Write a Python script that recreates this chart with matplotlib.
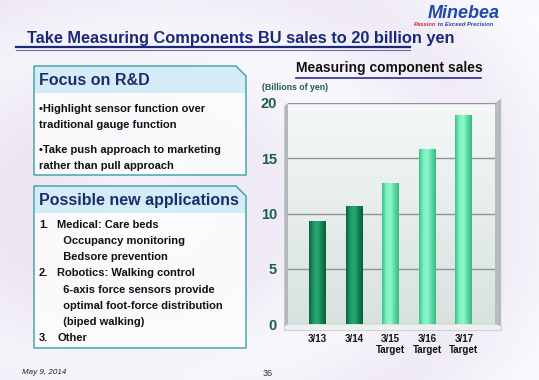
import matplotlib
matplotlib.use("Agg")
import matplotlib.pyplot as plt
import numpy as np
from matplotlib.patches import Polygon
from matplotlib.colors import LinearSegmentedColormap

plt.rcParams['font.family'] = ['Liberation Sans', 'DejaVu Sans']

# ---- data ----
categories = ["3/13", "3/14", "3/15\nTarget", "3/16\nTarget", "3/17\nTarget"]
sales = [9.3, 10.7, 12.8, 15.8, 18.9]
is_target = [False, False, True, True, True]
y_ticks = [0, 5, 10, 15, 20]

title = "Take Measuring Components BU sales to 20 billion yen"
chart_title = "Measuring component sales"
unit_label = "(Billions of yen)"
box1_head = "Focus on R&D"
box1_lines = ["•Highlight sensor function over", "traditional gauge function", "",
              "•Take push approach to marketing", "rather than pull approach"]
box2_head = "Possible new applications"
box2_lines = [("1.", "Medical: Care beds"), ("", "  Occupancy monitoring"), ("", "  Bedsore prevention"),
              ("2.", "Robotics: Walking control"), ("", "  6-axis force sensors provide"),
              ("", "  optimal foot-force distribution"), ("", "  (biped walking)"), ("3.", "Other")]

W, H = 539, 380
fig = plt.figure(figsize=(W / 100, H / 100), dpi=100)

def fx(px):
    return px / W

def fy(py):
    return 1 - py / H

# ---- slide background ----
bg = fig.add_axes([0, 0, 1, 1], zorder=-10)
bg.set_axis_off()
yy, xx = np.mgrid[0:1:200j, 0:1:200j]
r = np.sqrt((xx - 0.25) ** 2 + (yy - 0.45) ** 2)
val = 0.5 + 0.5 * np.cos(r * 14)
bg_cmap = LinearSegmentedColormap.from_list("bgc", ["#ece6f3", "#fbfaff"])
bg.imshow(val * 0.6 + 0.4 * xx, cmap=bg_cmap, extent=[0, 1, 0, 1], aspect="auto", origin="lower")
bg.set_xlim(0, 1)
bg.set_ylim(0, 1)

# ---- title ----
fig.text(fx(27), fy(38), title, fontsize=11.8, fontweight="bold", color="#1a2a7a",
         va="center", ha="left")
fig.add_artist(plt.Line2D([fx(16), fx(410)], [fy(47), fy(47)], color="#1a2a7a", lw=1.6))
fig.add_artist(plt.Line2D([fx(16), fx(410)], [fy(49.5), fy(49.5)], color="#6a6fb0", lw=0.8))

# ---- logo ----
fig.text(fx(500), fy(13), "Minebea", fontsize=13, fontweight="bold", style="italic",
         color="#1f4aa8", ha="right", va="center")
fig.text(fx(436), fy(24.5), "Passion", fontsize=4.2, fontweight="bold", style="italic",
         color="#c8282c", ha="right", va="center")
fig.text(fx(436), fy(24.5), " to Exceed Precision", fontsize=4.2, fontweight="bold", style="italic",
         color="#1f4aa8", ha="left", va="center")

# ---- left boxes ----
def draw_box(x0, y0, x1, y1, yh, head, headsize):
    cut = 10
    outline = [(fx(x0), fy(y0)), (fx(x1 - cut), fy(y0)), (fx(x1), fy(y0 + cut)),
               (fx(x1), fy(y1)), (fx(x0), fy(y1))]
    fig.add_artist(Polygon(outline, closed=True, facecolor="#ffffff", alpha=0.75,
                           edgecolor="none"))
    head_poly = [(fx(x0), fy(y0)), (fx(x1 - cut), fy(y0)), (fx(x1), fy(y0 + cut)),
                 (fx(x1), fy(yh)), (fx(x0), fy(yh))]
    fig.add_artist(Polygon(head_poly, closed=True, facecolor="#d4ecf8", edgecolor="none"))
    fig.add_artist(Polygon(outline, closed=True, facecolor="none", edgecolor="#3a9ea0", lw=1.0))
    fig.text(fx(x0 + 5), fy((y0 + yh) / 2 + 1), head, fontsize=headsize, fontweight="bold",
             color="#1a2f6e", va="center", ha="left")

draw_box(34, 66, 246, 175, 93, box1_head, 11.5)
ys1 = [109, 125, 137, 150, 166]
for t, yv in zip(box1_lines, ys1):
    if t:
        fig.text(fx(39), fy(yv), t, fontsize=8.0, fontweight="bold", color="#111111", va="center")

draw_box(34, 186, 246, 348, 213, box2_head, 11.5)
ys2 = [225, 241, 257, 273, 290, 306, 322, 338]
for (num, t), yv in zip(box2_lines, ys2):
    if num:
        fig.text(fx(39), fy(yv), num, fontsize=8.0, fontweight="bold", color="#111111", va="center")
    fig.text(fx(57), fy(yv), t, fontsize=8.0, fontweight="bold", color="#111111", va="center")

# ---- footer ----
fig.text(fx(22), fy(373), "May 9, 2014", fontsize=5.8, style="italic", color="#222222", va="center")
fig.text(fx(268), fy(373), "36", fontsize=6.5, color="#333333", va="center", ha="center")

# ---- chart title ----
fig.text(fx(389), fy(68), chart_title, fontsize=10, fontweight="bold", color="#111111",
         ha="center", va="center")
fig.add_artist(plt.Line2D([fx(296), fx(481)], [fy(78), fy(78)], color="#2a2f8a", lw=1.2))
fig.text(fx(262), fy(88), unit_label, fontsize=6.3, fontweight="bold", color="#1d5e50",
         ha="left", va="center")

# ---- chart ----
ax = fig.add_axes([fx(288), fy(324), fx(495) - fx(288), fy(103) - fy(324)])

wall_cmap = LinearSegmentedColormap.from_list("wall", ["#d8e2df", "#f4f8f8"])
ax.imshow(np.linspace(0, 1, 100).reshape(-1, 1), cmap=wall_cmap, extent=[0, 1, 0, 1],
          transform=ax.transAxes, aspect="auto", origin="lower", zorder=0)

for yv in y_ticks[1:]:
    ax.axhline(yv, color="#8e9494", lw=1.0, zorder=1)

ax.add_patch(Polygon([(-0.018, -0.01), (0.0, 0.0), (0.0, 1.0), (-0.018, 0.985)],
                     closed=True, transform=ax.transAxes, facecolor="#b3b8b8",
                     edgecolor="none", clip_on=False, zorder=2))
ax.add_patch(Polygon([(1.0, 0.0), (1.03, -0.01), (1.03, 1.02), (1.0, 1.0)],
                     closed=True, transform=ax.transAxes, facecolor="#b6bbbb",
                     edgecolor="none", clip_on=False, zorder=2))
ax.add_patch(Polygon([(-0.018, -0.01), (0.0, 0.0), (1.0, 0.0), (1.03, -0.01), (1.03, -0.03), (-0.018, -0.03)],
                     closed=True, transform=ax.transAxes, facecolor="#eef1f1",
                     edgecolor="#c4c9c9", lw=0.6, clip_on=False, zorder=2))

x = np.arange(len(categories))
bars = ax.bar(x, sales, width=0.46, color=["#5ee0a8" if t else "#138a5a" for t in is_target],
              zorder=3)
dark_cmap = LinearSegmentedColormap.from_list("dk", ["#0b6040", "#1d9a68", "#2aa874", "#13824f", "#0a5c3c"])
light_cmap = LinearSegmentedColormap.from_list("lt", ["#3cc08a", "#7cf0c0", "#90f7ce", "#5ad9a2", "#38b984"])
grad = np.linspace(0, 1, 100).reshape(1, -1)
for b, t in zip(bars, is_target):
    bx, by = b.get_x(), b.get_y()
    im = ax.imshow(grad, cmap=light_cmap if t else dark_cmap,
                   extent=[bx, bx + b.get_width(), by, by + b.get_height()],
                   aspect="auto", zorder=4)
    im.set_clip_path(b)

ax.set_xlim(-0.8, 4.85)
ax.set_ylim(0, 20)
ax.set_xticks(x)
ax.set_xticklabels(categories, fontsize=7, fontweight="bold", color="#111111", linespacing=1.1)
ax.set_yticks(y_ticks)
ax.set_yticklabels([str(v) for v in y_ticks], fontsize=10.5, fontweight="bold", color="#1d5c4e")
ax.tick_params(axis="x", length=0, pad=7)
ax.tick_params(axis="y", length=0, pad=8)
for s in ax.spines.values():
    s.set_visible(False)

fig.savefig("out.png", dpi=100)
